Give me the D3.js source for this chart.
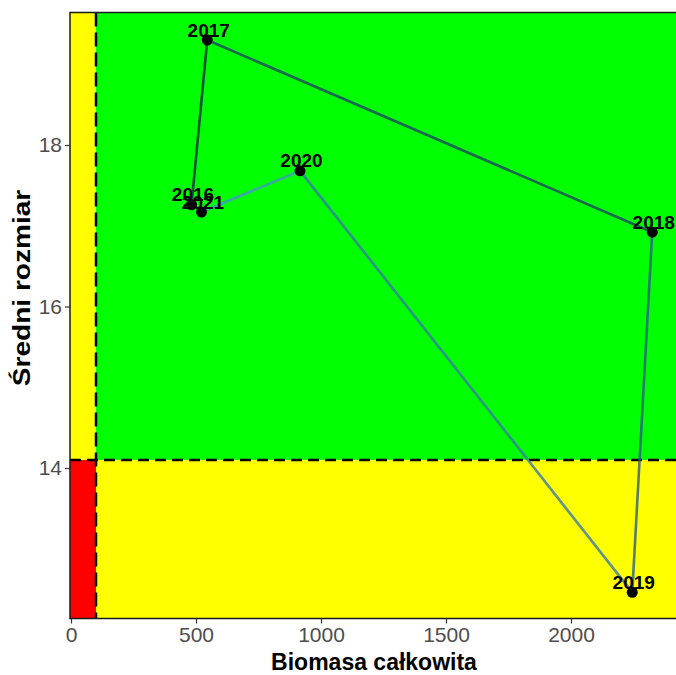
<!DOCTYPE html>
<html>
<head>
<meta charset="utf-8">
<script src="https://cdn.jsdelivr.net/npm/d3@7"></script>
<style>
  body { margin: 0; background: #fff; }
  text { font-family: "Liberation Sans", Arial, sans-serif; }
</style>
</head>
<body>
<div id="chart-wrapper"></div>
<script>

// data
const years = [2016, 2017, 2018, 2019, 2020, 2021]
const biomass = [482, 545, 2325, 2245, 916, 522]
const meanSize = [17.26, 19.30, 16.92, 12.46, 17.68, 17.17]

// reference thresholds
const biomassLimit = 100
const sizeLimit = 14.1

const xTicks = [0, 500, 1000, 1500, 2000]
const yTicks = [14, 16, 18]

function drawChart() {

  const dimensions = { width: 676, height: 675 }
  const panel = { left: 70, right: 680, top: 12.5, bottom: 618.5 }

  const svg = d3.select("#chart-wrapper")
    .append("svg")
      .attr("width", dimensions.width)
      .attr("height", dimensions.height)

  // scales
  const xScale = d3.scaleLinear()
    .domain([0, 2430])
    .range([71, 676 + 2.5])

  const yScale = d3.scaleLinear()
    .domain([14, 18])
    .range([468, 145])

  const yMin = yScale.invert(panel.bottom)
  const yMax = yScale.invert(panel.top)
  const xMin = xScale.invert(panel.left)
  const xMax = xScale.invert(panel.right)

  // background zones
  const zones = [
    { x0: xMin, x1: biomassLimit, y0: yMin, y1: sizeLimit, fill: "#FF0000" },
    { x0: xMin, x1: biomassLimit, y0: sizeLimit, y1: yMax, fill: "#FFFF00" },
    { x0: biomassLimit, x1: xMax, y0: yMin, y1: sizeLimit, fill: "#FFFF00" },
    { x0: biomassLimit, x1: xMax, y0: sizeLimit, y1: yMax, fill: "#00FF00" },
  ]
  svg.append("g").selectAll("rect")
    .data(zones)
    .join("rect")
      .attr("x", d => xScale(d.x0))
      .attr("y", d => yScale(d.y1))
      .attr("width", d => xScale(d.x1) - xScale(d.x0))
      .attr("height", d => yScale(d.y0) - yScale(d.y1))
      .attr("fill", d => d.fill)

  // dashed threshold lines
  svg.append("line")
    .attr("x1", xScale(biomassLimit)).attr("x2", xScale(biomassLimit))
    .attr("y1", panel.top).attr("y2", panel.bottom)
    .attr("stroke", "#000").attr("stroke-width", 2.5)
    .attr("stroke-dasharray", "14,6")
  svg.append("line")
    .attr("x1", panel.left).attr("x2", panel.right)
    .attr("y1", yScale(sizeLimit)).attr("y2", yScale(sizeLimit))
    .attr("stroke", "#000").attr("stroke-width", 2.5)
    .attr("stroke-dasharray", "11,6")

  // path between years, coloured by year like ggplot's default gradient (semi-transparent)
  const colorScale = d3.scaleLinear()
    .domain([2016, 2021])
    .range(["#132B43", "#56B1F7"])
    .interpolate(d3.interpolateLab)

  const segments = d3.range(years.length - 1).map(i => ({
    x1: biomass[i], y1: meanSize[i], x2: biomass[i + 1], y2: meanSize[i + 1], year: years[i]
  }))
  svg.append("g").selectAll("line")
    .data(segments)
    .join("line")
      .attr("x1", d => xScale(d.x1)).attr("y1", d => yScale(d.y1))
      .attr("x2", d => xScale(d.x2)).attr("y2", d => yScale(d.y2))
      .attr("stroke", d => colorScale(d.year))
      .attr("stroke-opacity", 0.8)
      .attr("stroke-width", 2.6)
      .attr("stroke-linecap", "round")

  // points
  svg.append("g").selectAll("circle")
    .data(years)
    .join("circle")
      .attr("cx", (d, i) => xScale(biomass[i]))
      .attr("cy", (d, i) => yScale(meanSize[i]))
      .attr("r", 5.5)
      .attr("fill", "#000")

  // year labels
  svg.append("g").selectAll("text")
    .data(years)
    .join("text")
      .attr("x", (d, i) => xScale(biomass[i]) + 1.5)
      .attr("y", (d, i) => yScale(meanSize[i]) - 3.5)
      .attr("text-anchor", "middle")
      .attr("font-size", 19)
      .attr("font-weight", "bold")
      .attr("fill", "#000")
      .text(d => d)

  // panel border
  svg.append("rect")
    .attr("x", panel.left).attr("y", panel.top)
    .attr("width", panel.right - panel.left).attr("height", panel.bottom - panel.top)
    .attr("fill", "none").attr("stroke", "#1a1a1a").attr("stroke-width", 1.5)

  // axes
  const xAxis = d3.axisBottom(xScale).tickValues(xTicks).tickSize(5).tickPadding(4).tickFormat(d3.format("d"))
  const yAxis = d3.axisLeft(yScale).tickValues(yTicks).tickSize(5).tickPadding(3).tickFormat(d3.format("d"))

  const xAxisGroup = svg.append("g")
    .attr("transform", `translate(0,${panel.bottom})`)
    .call(xAxis)
  const yAxisGroup = svg.append("g")
    .attr("transform", `translate(${panel.left},0)`)
    .call(yAxis)

  for (const g of [xAxisGroup, yAxisGroup]) {
    g.select(".domain").remove()
    g.selectAll(".tick line").attr("stroke", "#333").attr("stroke-width", 1.2)
    g.selectAll(".tick text")
      .attr("fill", "#4D4D4D")
      .attr("font-size", 21)
      .attr("font-family", "Liberation Sans, Arial, sans-serif")
  }

  // axis titles
  svg.append("text")
    .attr("x", 374).attr("y", 670)
    .attr("text-anchor", "middle")
    .attr("font-size", 23).attr("font-weight", "bold")
    .text("Biomasa całkowita")

  // the y title is drawn longer in the reference, so stretch it along its length
  svg.append("text")
    .attr("transform", "translate(30,288) rotate(-90) scale(1.22,1)")
    .attr("text-anchor", "middle")
    .attr("font-size", 23).attr("font-weight", "bold")
    .text("Średni rozmiar")
}

drawChart()
</script>
</body>
</html>
